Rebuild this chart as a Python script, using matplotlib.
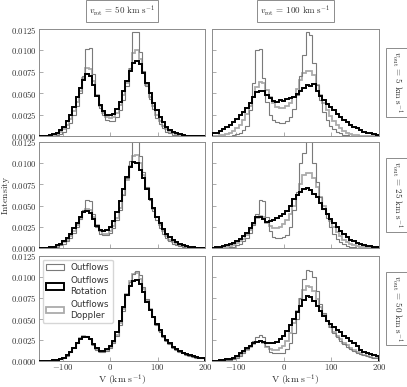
import numpy as np
import matplotlib
matplotlib.use('Agg')
import matplotlib.pyplot as plt
from matplotlib.ticker import FuncFormatter

plt.rcParams['mathtext.fontset'] = 'cm'
plt.rcParams['font.family'] = ['DejaVu Sans']

# ---------------- data (density values in units of 1e-4) ----------------
SCALE = 1e-4
bin_edges = np.arange(-150, 201, 7)
vrot_labels = ['50', '100']
vout_labels = ['5', '25', '50']
series_labels = ['Outflows', 'Outflows\nRotation', 'Outflows\nDoppler']

# v_rot = 50, v_out = 5
rot_r50_o5 = [0,0,0.5,1,2,4,7,11,17,25, 34,45,56,66,72,70,60,47,36,29, 25,24,26,31,40,52,64,76,85,88,
              84,74,62,50,39,30,22,16,11,7, 4.5,3,2,1,0.5,0.3,0,0,0,0]
out_r50_o5 = [0,0,0,0,0.3,1,2,5,9,15, 24,35,50,70,102,103,72,48,33,24, 19,17,18,22,30,42,58,80,122,121,
              98,76,58,43,31,21,14,9,5,3, 1.5,0.8,0.3,0,0,0,0,0,0,0]
dop_r50_o5 = [0,0,0.2,0.5,1,2.5,5,8,13,20, 29,40,53,68,80,78,64,48,35,27, 22,21,22,27,36,48,62,78,97,100,
              90,75,60,46,35,25,17,12,8,5, 3,1.5,0.8,0.3,0,0,0,0,0,0]

# v_rot = 100, v_out = 5
rot_r100_o5 = [3,4,6,8,10,13,16,20,24,28, 33,39,46,51,53,52,48,44,41,40, 42,41,43,44,46,49,53,56,60,58,
               61,53,47,42,37,34,30,26,22,19, 16,13,11,9,7,5,4,3,2,1.5]
out_r100_o5 = [0,0,0,0,0,0.3,1,2,4,7, 12,30,62,100,102,68,40,25,19,16, 15,15,17,22,32,48,70,95,121,118,
               85,60,42,28,19,12,8,5,3,1.5, 0.7,0.3,0,0,0,0,0,0,0,0]
dop_r100_o5 = [0,0.3,0.7,1.5,2.5,4,6,9,13,19, 26,35,46,57,63,62,54,45,38,34, 33,33,35,39,46,55,65,74,76,76,
               71,60,48,38,30,23,18,13,9,6, 4,2.5,1.5,0.8,0.4,0,0,0,0,0]

# v_rot = 50, v_out = 25
rot_r50_o25 = [0,0,0.3,0.7,1.5,3,5,8,12,17, 23,30,37,42,44,41,34,26,21,20, 21,25,32,42,55,70,84,96,101,100,
               92,82,70,58,47,37,29,22,17,13, 9,6.5,4.5,3,2,1.3,0.8,0.5,0.3,0.2]
out_r50_o25 = [0,0,0,0.3,0.7,1.5,3,5,8,12, 18,25,34,45,57,56,40,25,17,15, 15,18,24,33,45,62,82,103,132,131,
               108,90,72,57,44,33,24,17,12,8, 5,3,2,1,0.5,0.2,0,0,0,0]
dop_r50_o25 = [0,0,0.2,0.5,1,2,4,6.5,10,14, 20,27,35,42,46,45,37,27,20,17, 17,20,26,35,47,63,80,97,109,110,
               100,86,71,58,46,36,27,20,14,10, 7,4.5,3,1.8,1,0.5,0.3,0,0,0]

# v_rot = 100, v_out = 25
rot_r100_o25 = [0.3,0.7,1.2,2,3,4.5,6,8,11,14, 18,23,29,36,37,34,31,32,33,35, 38,40,44,50,58,62,66,70,71,68,
                64,60,53,46,40,34,29,25,20,16, 13,10,8,6,4.5,3.5,2.5,1.8,1.2,0.8]
out_r100_o25 = [0,0,0,0,0.3,0.7,1.5,3,5,8, 12,18,27,40,57,56,36,20,13,12, 12,13,15,25,45,66,100,112,132,131,
                100,78,60,46,35,25,17,11,7,4.5, 2.7,1.6,0.9,0.4,0.2,0,0,0,0,0]
dop_r100_o25 = [0,0,0.3,0.7,1.3,2.3,3.5,5.5,8,11, 15,21,28,35,38,36,30,26,24,24, 25,28,33,40,50,62,75,86,89,89,
                82,72,60,49,40,32,25,19,14,10, 7,5,3.5,2.3,1.5,0.9,0.5,0.3,0,0]

# v_rot = 50, v_out = 50
rot_r50_o50 = [0.1,0.2,0.3,0.5,0.8,1.3,2.2,4,7,11, 16,21,26,29,29,26,20,15,12,12, 14,18,24,34,48,64,79,89,95,96,
               92,82,70,61,52,44,37,30,25,21, 17,14,12,10,8.5,7,6,5,4,3.5]
out_r50_o50 = [0,0.1,0.2,0.4,0.6,1,1.8,3.5,6.5,10.5, 16,22,27,30,30,26,19,13,11,11, 12,15,21,30,43,60,78,94,104,107,
               102,88,74,62,52,43,35,29,24,20, 16,13,11,9,7.5,6,5,4,3.5,3]
dop_r50_o50 = [0,0.1,0.2,0.4,0.7,1.1,2,3.7,6.8,11, 16,22,27,30,29,26,19,14,11,11, 13,16,22,31,45,62,80,95,103,105,
               98,86,73,62,52,43,36,29,24,20, 16,13,11,9,7.5,6,5,4,3.5,3]

# v_rot = 100, v_out = 50
rot_r100_o50 = [0.3,0.5,0.8,1.2,1.8,2.5,4,6,9,12, 15,18,21,23,24,23,22,21,21,23, 26,30,36,43,50,58,66,73,77,76,
                72,66,60,54,48,44,40,37,34,30, 27,24,21,18,13,11,9,8,7,6]
out_r100_o50 = [0,0.1,0.2,0.4,0.7,1.2,2,3.5,6,9.5, 14,19,24,29,31,28,18,11,9,9, 9,10,14,22,33,50,75,98,108,107,
                100,83,68,57,48,40,33,28,24,20, 17,14,12,10,8.5,7,6,5,4,3.5]
dop_r100_o50 = [0.1,0.2,0.4,0.7,1.1,1.7,2.8,4.5,7,10, 13,17,20,23,24,22,17,14,13,13, 15,18,24,33,45,60,74,85,89,88,
                83,74,64,56,48,41,35,30,26,22, 19,16,13,11,9,7.5,6,5,4,3.5]

panels = {
    (0, 0): (out_r50_o5, rot_r50_o5, dop_r50_o5),
    (0, 1): (out_r100_o5, rot_r100_o5, dop_r100_o5),
    (1, 0): (out_r50_o25, rot_r50_o25, dop_r50_o25),
    (1, 1): (out_r100_o25, rot_r100_o25, dop_r100_o25),
    (2, 0): (out_r50_o50, rot_r50_o50, dop_r50_o50),
    (2, 1): (out_r100_o50, rot_r100_o50, dop_r100_o50),
}

# ---------------- styling ----------------
W, H = 407, 387
fig = plt.figure(figsize=(W / 100, H / 100), dpi=100)

col_px = [(39, 205), (212, 379)]
row_px = [(29, 136), (142, 248), (256, 361)]

styles = [
    dict(color='#7a7a7a', lw=0.8, zorder=2),
    dict(color='black', lw=1.4, zorder=3),
    dict(color='#ababab', lw=1.3, zorder=1),
]

centers = 0.5 * (bin_edges[:-1] + bin_edges[1:])
frame_col = '#8c8c8c'
tick_fs = 6.3

axes = {}
for (r, c), series in panels.items():
    x0, x1 = col_px[c]
    y0, y1 = row_px[r]
    ax = fig.add_axes([x0 / W, 1 - y1 / H, (x1 - x0) / W, (y1 - y0) / H])
    axes[(r, c)] = ax
    handles = []
    for vals, st, lab in zip(series, styles, series_labels):
        _, _, patches = ax.hist(centers, bins=bin_edges, weights=np.array(vals) * SCALE,
                                histtype='step', label=lab, **st)
        handles.append(patches[0])
    ax.set_xlim(-150, 200)
    ax.set_ylim(0, 0.0125)
    ax.set_xticks([-100, 0, 100, 200])
    ax.set_yticks([0, 0.0025, 0.005, 0.0075, 0.01, 0.0125])
    ax.tick_params(direction='in', length=3, width=0.5, colors=frame_col,
                   labelcolor='#333333', labelsize=tick_fs, pad=1.5)
    ax.tick_params(axis='x', pad=1.0)
    for sp in ax.spines.values():
        sp.set_color(frame_col)
        sp.set_linewidth(0.7)
    ax.xaxis.set_major_formatter(FuncFormatter(lambda v, p: r'$%d$' % v))
    ax.yaxis.set_major_formatter(FuncFormatter(lambda v, p: r'$%.4f$' % v))
    if c == 1:
        ax.tick_params(labelleft=False)
    if r != 2:
        ax.tick_params(labelbottom=False)
    else:
        ax.set_xlabel(r'$\mathrm{V\ (km\ s^{-1})}$', fontsize=7, color='#333333')
        ax.xaxis.set_label_coords(0.5, -(372.5 - y1) / (y1 - y0))
    if r == 1 and c == 0:
        ax.set_ylabel(r'$\mathrm{Intensity}$', fontsize=7, color='#333333')
        ax.yaxis.set_label_coords(-(x0 - 12) / (x1 - x0), 0.5)
    if r == 2 and c == 0:
        leg = ax.legend(handles=handles, loc='upper left', fontsize=6.3,
                        handlelength=2.0, borderpad=0.4, labelspacing=0.5,
                        handletextpad=0.8, borderaxespad=0.4)
        for t in leg.get_texts():
            t.set_color('#333333')

box = dict(boxstyle='square,pad=0.35', fc='white', ec='#8c8c8c', lw=0.7)
for c, lab in enumerate(vrot_labels):
    x0, x1 = col_px[c]
    fig.text((x0 + x1) / 2 / W, 1 - 11 / H,
             r'$v_{\rm rot}\,=\,%s\ {\rm km\ s^{-1}}$' % lab,
             ha='center', va='center', fontsize=6.5, color='#333333', bbox=box)
for r, lab in enumerate(vout_labels):
    y0, y1 = row_px[r]
    fig.text(397 / W, 1 - (y0 + y1) / 2 / H,
             r'$v_{\rm out}\,=\,%s\ {\rm km\ s^{-1}}$' % lab,
             ha='center', va='center', rotation=270, fontsize=6.5, color='#333333', bbox=box)

fig.savefig('out.png', dpi=100)
